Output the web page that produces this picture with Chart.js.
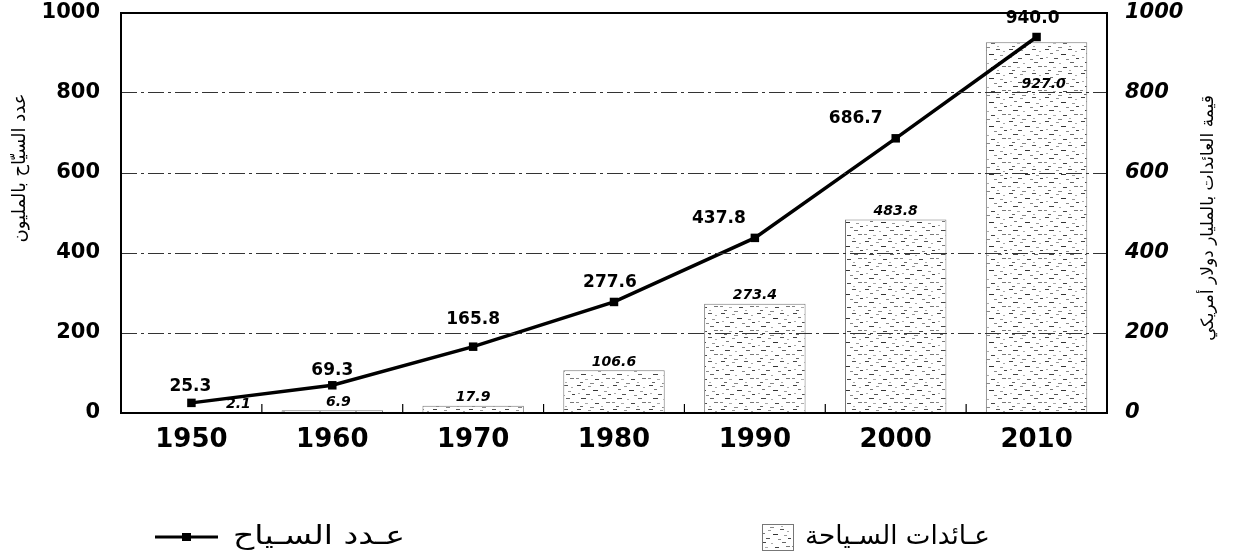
<!DOCTYPE html>
<html>
<head>
<meta charset="utf-8">
<script src="https://cdn.jsdelivr.net/npm/chart.js@4"></script>
<style>
  html, body { margin: 0; padding: 0; background: #fff; }
  #wrap { width: 1248px; height: 553px; }
</style>
</head>
<body>
<div id="wrap"><canvas id="chart" width="1248" height="553"></canvas></div>
<script>
/* tourism chart — arrivals (line, left axis) + receipts (bars, right axis) */

// ── data ─────────────────────────────────────
const YEARS     = ['1950', '1960', '1970', '1980', '1990', '2000', '2010'];
const TOURISTS  = [25.3, 69.3, 165.8, 277.6, 437.8, 686.7, 940.0];   // millions
const RECEIPTS  = [2.1, 6.9, 17.9, 106.6, 273.4, 483.8, 927.0];      // billion USD
const Y_TICKS   = [0, 200, 400, 600, 800, 1000];

const LEFT_TITLE   = 'عدد السيّاح بالمليون';
const RIGHT_TITLE  = 'قيمة العائدات بالمليار دولار أمريكي';
const LEGEND_LINE  = 'عـدد السـياح';
const LEGEND_BARS  = 'عـائدات السـياحة';

// label nudges (dx, dy) — hand placed in the original
const LINE_LABEL_SHIFT = [[-1, -16], [0, -15], [0, -27], [-4, -19], [-36, -19], [-40, -20], [-4, -18]];
const BAR_LABEL_SHIFT  = { 0: [47, 0], 1: [6, 0], 6: [7, 42] };

const NUM_FONT = 'DejaVu Sans';
const AR_FONT  = 'DejaVu Sans';

// ── stipple fill for bars ────────────────────
function makeStipple() {
  const c = document.createElement('canvas');
  c.width = 36; c.height = 24;
  const g = c.getContext('2d');
  g.fillStyle = '#fff';
  g.fillRect(0, 0, 36, 24);
  const dashes = [
    [1, 1, 4, '#444'], [12, 2, 3, '#999'], [24, 1, 4, '#555'], [31, 3, 2, '#aaa'],
    [6, 5, 3, '#777'], [17, 6, 5, '#333'], [28, 7, 3, '#999'],
    [2, 9, 2, '#aaa'], [10, 10, 4, '#555'], [22, 11, 3, '#888'], [32, 10, 3, '#444'],
    [5, 14, 5, '#444'], [15, 15, 2, '#aaa'], [26, 14, 4, '#666'],
    [0, 18, 3, '#888'], [9, 19, 3, '#aaa'], [19, 19, 4, '#444'], [30, 18, 4, '#777'],
    [4, 22, 3, '#666'], [14, 23, 4, '#888'], [25, 22, 2, '#aaa']
  ];
  dashes.forEach(([x, y, len, col]) => {
    g.fillStyle = col;
    g.fillRect(x, y, len, 1);
  });
  return g.createPattern(c, 'repeat');
}

const ctx = document.getElementById('chart').getContext('2d');
const stipple = makeStipple();

// draw text starting at x, squeezed/stretched horizontally to roughly a target width
function fitText(c, txt, x, y, target) {
  const w = c.measureText(txt).width;
  const sx = Math.max(0.8, Math.min(1.4, target / w));
  c.save();
  c.translate(x, y);
  c.scale(sx, 1);
  c.fillText(txt, 0, 0);
  c.restore();
}

// ── plugins ──────────────────────────────────
const whiteBg = {
  id: 'whiteBg',
  beforeDraw(chart) {
    const c = chart.ctx;
    c.save();
    c.fillStyle = '#fff';
    c.fillRect(0, 0, chart.width, chart.height);
    c.restore();
  }
};

const frameAndLabels = {
  id: 'frameAndLabels',
  afterDraw(chart) {
    const c = chart.ctx;
    const area = chart.chartArea;
    const xs = chart.scales.x;

    c.save();

    // plot frame
    c.strokeStyle = '#000';
    c.lineWidth = 2;
    c.strokeRect(area.left, area.top, area.right - area.left, area.bottom - area.top);

    // inward tick marks on category boundaries
    c.lineWidth = 1.2;
    for (let i = 0; i < YEARS.length - 1; i++) {
      const bx = (xs.getPixelForTick(i) + xs.getPixelForTick(i + 1)) / 2;
      c.beginPath();
      c.moveTo(bx, area.bottom);
      c.lineTo(bx, area.bottom - 9);
      c.stroke();
    }

    // bar value labels
    const barMeta = chart.getDatasetMeta(0);
    c.fillStyle = '#000';
    c.font = 'italic bold 14px "' + NUM_FONT + '"';
    c.textAlign = 'center';
    barMeta.data.forEach((bar, i) => {
      const shift = BAR_LABEL_SHIFT[i] || [0, 0];
      const txt = RECEIPTS[i].toFixed(1);
      if (shift[1] > 0) {
        c.textBaseline = 'middle';
        c.fillText(txt, bar.x + shift[0], bar.y + shift[1]);
      } else {
        c.textBaseline = 'bottom';
        c.fillText(txt, bar.x + shift[0], bar.y - 1);
      }
    });

    // line value labels
    const lineMeta = chart.getDatasetMeta(1);
    c.font = 'bold 17px "' + NUM_FONT + '"';
    c.textBaseline = 'middle';
    lineMeta.data.forEach((pt, i) => {
      const [dx, dy] = LINE_LABEL_SHIFT[i];
      c.fillText(TOURISTS[i].toFixed(1), pt.x + dx, pt.y + dy);
    });

    // rotated axis titles
    c.textAlign = 'center';
    c.textBaseline = 'middle';
    c.font = '18px "' + AR_FONT + '"';
    c.save();
    c.translate(20, 168);
    c.rotate(-Math.PI / 2);
    c.fillText(LEFT_TITLE, 0, 0);
    c.restore();
    c.font = '17px "' + AR_FONT + '"';
    c.save();
    c.translate(1209, 218);
    c.rotate(-Math.PI / 2);
    c.fillText(RIGHT_TITLE, 0, 0);
    c.restore();

    // legend (bottom)
    const ly = 537;
    c.strokeStyle = '#000';
    c.lineWidth = 3;
    c.beginPath();
    c.moveTo(155, ly);
    c.lineTo(218, ly);
    c.stroke();
    c.fillRect(182, ly - 4, 9, 8);

    c.font = '26px "' + AR_FONT + '"';
    c.textAlign = 'left';
    c.textBaseline = 'middle';
    fitText(c, LEGEND_LINE, 233, ly, 172);

    c.fillStyle = stipple;
    c.fillRect(762, 524, 31, 26);
    c.strokeStyle = '#777';
    c.lineWidth = 1;
    c.strokeRect(762.5, 524.5, 31, 26);
    c.fillStyle = '#000';
    fitText(c, LEGEND_BARS, 805, ly, 185);

    c.restore();
  }
};

// vertical scales: fixed width, no extra top/bottom padding for labels
const fitY = w => s => {
  s.width = w;
  s.paddingTop = 0;
  s.paddingBottom = 0;
};

// ── chart ────────────────────────────────────
new Chart(ctx, {
  data: {
    labels: YEARS,
    datasets: [
      {
        type: 'bar',
        label: LEGEND_BARS,
        data: RECEIPTS,
        yAxisID: 'y1',
        backgroundColor: stipple,
        borderColor: '#777',
        borderWidth: 1,
        barPercentage: 0.72,
        categoryPercentage: 1.0,
        order: 2
      },
      {
        type: 'line',
        label: LEGEND_LINE,
        data: TOURISTS,
        yAxisID: 'y',
        borderColor: '#000',
        backgroundColor: '#000',
        borderWidth: 3.5,
        tension: 0,
        pointStyle: 'rect',
        pointRadius: 6,
        pointBorderWidth: 0,
        fill: false,
        order: 1
      }
    ]
  },
  options: {
    responsive: false,
    animation: false,
    layout: { padding: { top: 13, bottom: 80, left: 0, right: 0 } },
    plugins: {
      legend: { display: false },
      tooltip: { enabled: false }
    },
    scales: {
      x: {
        offset: true,
        grid: { display: false, drawTicks: false },
        border: { display: false },
        ticks: {
          color: '#000',
          padding: 12,
          maxRotation: 0,
          font: { family: NUM_FONT, weight: 'bold', size: 26 }
        },
        afterFit: s => { s.height = 60; s.paddingLeft = 0; s.paddingRight = 0; }
      },
      y: {
        position: 'left',
        min: 0,
        max: 1000,
        afterBuildTicks: s => { s.ticks = Y_TICKS.map(v => ({ value: v })); },
        grid: {
          color: '#333',
          lineWidth: 1,
          drawTicks: false,
          z: 1
        },
        border: { display: false, dash: [16, 4, 3, 4] },
        ticks: {
          color: '#000',
          padding: 21,
          callback: v => String(v),
          font: { family: NUM_FONT, weight: 'bold', size: 21 }
        },
        afterFit: fitY(121)
      },
      y1: {
        position: 'right',
        min: 0,
        max: 1000,
        afterBuildTicks: s => { s.ticks = Y_TICKS.map(v => ({ value: v })); },
        grid: { display: false, drawTicks: false },
        border: { display: false },
        ticks: {
          color: '#000',
          padding: 18,
          callback: v => String(v),
          font: { family: NUM_FONT, weight: 'bold', style: 'italic', size: 21 }
        },
        afterFit: fitY(141)
      }
    }
  },
  plugins: [whiteBg, frameAndLabels]
});
</script>
</body>
</html>
